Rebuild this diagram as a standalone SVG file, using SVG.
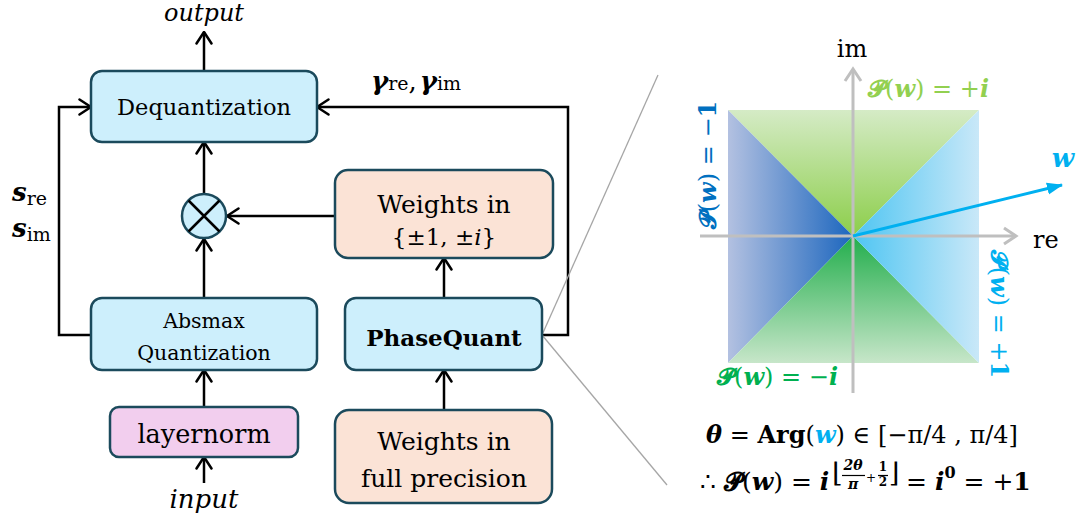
<svg xmlns="http://www.w3.org/2000/svg" width="1080" height="521" viewBox="0 0 1080 521">
<style>
.t{font-family:"DejaVu Serif","Liberation Serif",serif}
.k{fill:#000}
.box{stroke:#1B4A5C;stroke-width:2.5}
.blue{fill:#CDEFFC}
.peach{fill:#FBE3D6}
.pink{fill:#F2CEEE}
.con{fill:none;stroke:#000;stroke-width:2.5}
.bi{font-weight:bold;font-style:italic}
.b{font-weight:bold}
.ax{fill:none;stroke:#BFBFBF;stroke-width:3}
.zl{fill:none;stroke:#A6A6A6;stroke-width:1.3}
.cy{fill:#00B0F0}
.lg{fill:#92D050}
.dg{fill:#00B050}
.db{fill:#0070C0}
</style>
<defs>
<marker id="ah" markerUnits="userSpaceOnUse" viewBox="0 0 14 18" refX="13" refY="9" markerWidth="14" markerHeight="18" orient="auto">
<path d="M1.5,1.5 L13,9 L1.5,16.5" fill="none" stroke="#000" stroke-width="2.5" stroke-linejoin="round" stroke-linecap="round"/>
</marker>
<marker id="wa" markerUnits="userSpaceOnUse" viewBox="0 0 16 14" refX="15" refY="7" markerWidth="16" markerHeight="14" orient="auto">
<path d="M0,1 L16,7 L0,13 Z" fill="#00B0F0"/>
</marker>
<linearGradient id="gTop" x1="0" y1="0" x2="0" y2="1"><stop offset="0" stop-color="#D5EBC6"/><stop offset="1" stop-color="#8CCE4A"/></linearGradient>
<linearGradient id="gBot" x1="0" y1="0" x2="0" y2="1"><stop offset="0" stop-color="#22AE4C"/><stop offset="1" stop-color="#C7E6C9"/></linearGradient>
<linearGradient id="gLeft" x1="0" y1="0" x2="1" y2="0"><stop offset="0" stop-color="#B3C1E1"/><stop offset="1" stop-color="#1C66BE"/></linearGradient>
<linearGradient id="gRight" x1="0" y1="0" x2="1" y2="0"><stop offset="0" stop-color="#4EC5F2"/><stop offset="1" stop-color="#C9E8F8"/></linearGradient>
</defs>

<g id="connectors">
<line class="con" x1="204" y1="71" x2="204" y2="32" marker-end="url(#ah)"/>
<line class="con" x1="204" y1="193" x2="204" y2="142" marker-end="url(#ah)"/>
<line class="con" x1="204" y1="298" x2="204" y2="239" marker-end="url(#ah)"/>
<line class="con" x1="335" y1="216" x2="227" y2="216" marker-end="url(#ah)"/>
<line class="con" x1="204" y1="407" x2="204" y2="370" marker-end="url(#ah)"/>
<line class="con" x1="204" y1="483" x2="204" y2="457" marker-end="url(#ah)"/>
<line class="con" x1="444" y1="298" x2="444" y2="258" marker-end="url(#ah)"/>
<line class="con" x1="444" y1="410" x2="444" y2="370" marker-end="url(#ah)"/>
<polyline class="con" points="91,335 59,335 59,107 91,107" marker-end="url(#ah)"/>
<polyline class="con" points="542,335 568,335 568,107 317,107" marker-end="url(#ah)"/>
<line class="zl" x1="542" y1="335" x2="658" y2="75"/>
<line class="zl" x1="542" y1="335" x2="667" y2="485"/>
</g>

<text class="t k" x="204" y="21" font-size="24" font-style="italic" text-anchor="middle">output</text>
<text class="t k" x="204" y="508" font-size="26" font-style="italic" text-anchor="middle">input</text>
<text class="t k" x="371" y="90" font-size="26"><tspan class="bi">γ</tspan><tspan font-size="19">re</tspan>,<tspan class="bi" dx="3">γ</tspan><tspan font-size="19">im</tspan></text>
<text class="t k" x="12" y="201" font-size="26"><tspan class="bi">s</tspan><tspan font-size="19" dy="4">re</tspan></text>
<text class="t k" x="12" y="237" font-size="26"><tspan class="bi">s</tspan><tspan font-size="19" dy="4">im</tspan></text>

<g id="dequant">
<rect class="box blue" x="91" y="71" width="226" height="71" rx="11"/>
<text class="t k" x="204" y="115" font-size="22.5" text-anchor="middle">Dequantization</text>
</g>
<g id="mult">
<circle class="box blue" cx="204" cy="216" r="22"/>
<path d="M188.5,200.5 L219.5,231.5 M219.5,200.5 L188.5,231.5" stroke="#000" stroke-width="2.5"/>
</g>
<g id="weights-q">
<rect class="box peach" x="335" y="170" width="218" height="88" rx="13"/>
<text class="t k" x="444" y="213" font-size="25" text-anchor="middle">Weights in</text>
<text class="t k" x="444" y="245" font-size="23" text-anchor="middle">{±1, ±<tspan font-style="italic">i</tspan>}</text>
</g>
<g id="absmax">
<rect class="box blue" x="91" y="298" width="226" height="72" rx="11"/>
<text class="t k" x="204" y="328" font-size="20.5" text-anchor="middle">Absmax</text>
<text class="t k" x="204" y="360" font-size="20.5" text-anchor="middle">Quantization</text>
</g>
<g id="phasequant">
<rect class="box blue" x="345" y="298" width="197" height="72" rx="11"/>
<text class="t k b" x="444" y="346" font-size="23" text-anchor="middle">PhaseQuant</text>
</g>
<g id="layernorm">
<rect class="box pink" x="110" y="407" width="188" height="50" rx="9"/>
<text class="t k" x="204" y="443" font-size="25.5" text-anchor="middle">layernorm</text>
</g>
<g id="weights-fp">
<rect class="box peach" x="335" y="410" width="217" height="93" rx="14"/>
<text class="t k" x="444" y="450" font-size="25" text-anchor="middle">Weights in</text>
<text class="t k" x="444" y="487" font-size="25" text-anchor="middle">full precision</text>
</g>

<g id="complex-plane">
<polygon points="728,110 979,110 853,236" fill="url(#gTop)"/>
<polygon points="728,110 853,236 728,363" fill="url(#gLeft)"/>
<polygon points="728,363 853,236 979,363" fill="url(#gBot)"/>
<polygon points="979,110 979,363 853,236" fill="url(#gRight)"/>
<line class="ax" x1="853" y1="393" x2="853" y2="69"/>
<path class="ax" d="M845,81 L853,69 L861,81"/>
<line class="ax" x1="700" y1="236" x2="1016" y2="236"/>
<path class="ax" d="M1004,228 L1016,236 L1004,244"/>
<line x1="853" y1="236" x2="1062" y2="185" stroke="#00B0F0" stroke-width="3" marker-end="url(#wa)"/>
<text class="t k" x="852" y="57" font-size="24" text-anchor="middle">im</text>
<text class="t k" x="1033" y="248" font-size="24">re</text>
<text class="t bi cy" x="1063" y="167" font-size="26" text-anchor="middle">w</text>
<text class="t lg" x="868" y="97" font-size="24"><tspan class="b">𝓟</tspan>(<tspan class="bi">w</tspan>) = +<tspan class="bi">i</tspan></text>
<text class="t dg" x="717" y="385" font-size="24"><tspan class="b">𝓟</tspan>(<tspan class="bi">w</tspan>) = −<tspan class="bi">i</tspan></text>
<text class="t db" transform="translate(716,165) rotate(-90)" font-size="24" text-anchor="middle"><tspan class="b">𝓟</tspan>(<tspan class="bi">w</tspan>) = −<tspan class="b">1</tspan></text>
<text class="t cy" transform="translate(991,314) rotate(90)" font-size="24" text-anchor="middle"><tspan class="b">𝓟</tspan>(<tspan class="bi">w</tspan>) = +<tspan class="b">1</tspan></text>
</g>

<g id="formula">
<text class="t k" x="862" y="443" font-size="24" text-anchor="middle"><tspan class="bi">θ</tspan> = <tspan class="b">Arg</tspan>(<tspan class="bi cy">w</tspan>) ∈ [−π/4 , π/4]</text>
<text class="t k" x="700" y="490" font-size="25">∴ <tspan class="b">𝓟</tspan>(<tspan class="bi">w</tspan>) = <tspan class="bi">i</tspan></text>
<text class="t k" x="832" y="482" font-size="27">⌊</text>
<text class="t k bi" x="853" y="470" font-size="14" text-anchor="middle">2θ</text>
<line x1="842" y1="475.5" x2="865" y2="475.5" stroke="#000" stroke-width="1.2"/>
<text class="t k bi" x="853" y="489" font-size="14" text-anchor="middle">π</text>
<text class="t k" x="871" y="482" font-size="12" text-anchor="middle">+</text>
<text class="t k b" x="883" y="471" font-size="12" text-anchor="middle">1</text>
<line x1="878" y1="475.5" x2="888" y2="475.5" stroke="#000" stroke-width="1.2"/>
<text class="t k b" x="883" y="486" font-size="12" text-anchor="middle">2</text>
<text class="t k" x="889" y="482" font-size="27">⌋</text>
<text class="t k" x="906" y="490" font-size="25">= <tspan class="bi">i</tspan><tspan class="b" font-size="16" dy="-12">0</tspan><tspan dy="12"> = +</tspan><tspan class="b">1</tspan></text>
</g>
</svg>
